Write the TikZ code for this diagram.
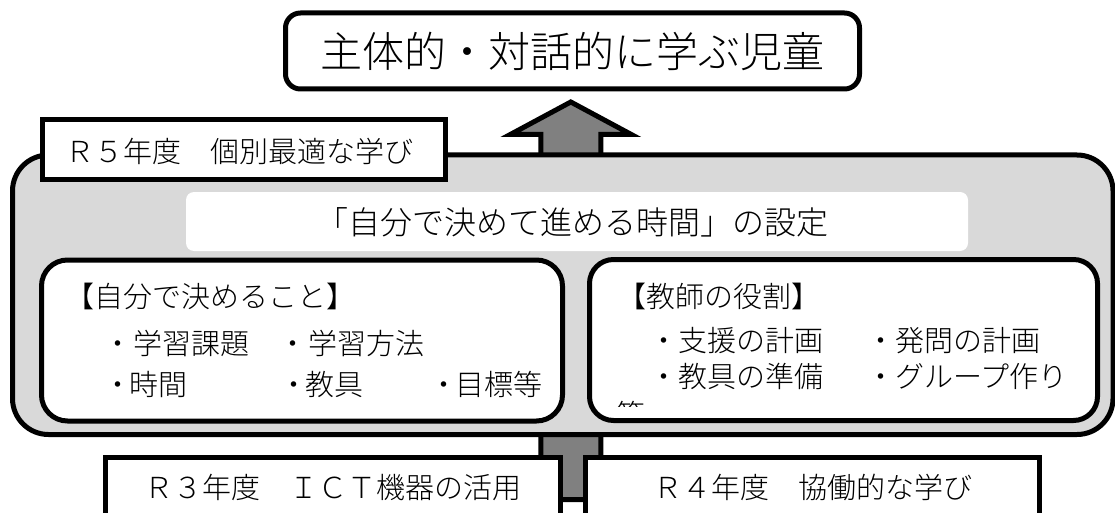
\documentclass[tikz,border=0pt]{standalone}
\usepackage{fontspec}
\IfFontExistsTF{Noto Sans CJK JP Light}
  {\setmainfont{Noto Sans CJK JP Light}}
  {\setmainfont{Noto Sans CJK JP}}
\definecolor{panelgray}{RGB}{217,217,217}
\definecolor{arrowgray}{RGB}{128,128,128}
\newcommand\fsz[1]{\fontsize{#1}{#1}\selectfont}
\begin{document}
\begin{tikzpicture}[x=1pt,y=-1pt,
  framebox/.style={draw=black,line width=5pt,fill=white,inner sep=0pt},
  item/.style={inner sep=0pt,anchor=west,font=\fsz{29}},
  label/.style={inner sep=0pt,font=\fsz{29}}]
\useasboundingbox (0,0) rectangle (1115,513);
\fill[white] (0,0) rectangle (1115,513);
\clip (0,0) rectangle (1115,513);

% block arrow (behind everything)
\coordinate (abl) at (540.8,499.5);
\coordinate (abr) at (600.8,499.5);
\coordinate (asl) at (540.8,134.5);
\coordinate (asr) at (600.8,134.5);
\coordinate (ahl) at (510.3,134.5);
\coordinate (ahr) at (631.3,134.5);
\coordinate (atip) at (570.8,102);
\draw[line width=5pt,fill=arrowgray,line join=miter]
  (abl) -- (asl) -- (ahl) -- (atip) -- (ahr) -- (asr) -- (abr) -- cycle;

% goal box
\node[framebox,rounded corners=15pt,minimum width=574pt,minimum height=76pt,font=\fsz{42}]
  (goal) at (572.5,51) {主体的・対話的に学ぶ児童};

% main panel
\node[draw=black,line width=5pt,fill=panelgray,rounded corners=36pt,
  minimum width=1100.5pt,minimum height=279.5pt,inner sep=0pt] (panel) at (562.75,294.75) {};

% R5 label
\node[framebox,minimum width=403pt,minimum height=60pt] (r5) at (244,149.5) {};
\node[label] (r5text) at (239.5,151) {Ｒ５年度　個別最適な学び};

% banner
\node[fill=white,rounded corners=8pt,minimum width=782pt,minimum height=59pt,inner sep=0pt]
  (banner) at (577,221.5) {};
\node[inner sep=0pt,font=\fsz{32}] (bannertext) at (572.5,222) {「自分で決めて進める時間」の設定};

% inner boxes
\node[framebox,rounded corners=26pt,minimum width=521pt,minimum height=161pt] (selfbox) at (302,340.5) {};
\node[framebox,rounded corners=24pt,minimum width=508pt,minimum height=161pt] (rolebox) at (843.5,340) {};

% left box text
\node[item] (s0) at (65,296) {【自分で決めること】};
\node[item] (s1) at (103.5,343) {・\kern1pt 学習課題};
\node[item] (s2) at (278.5,343) {・\kern1pt 学習方法};
\node[item] (s3) at (103.5,384) {・\kern-3pt 時間};
\node[item] (s4) at (279.5,384) {・\kern-3pt 教具};
\node[item] (s5) at (429.5,384) {・\kern-3pt 目標等};

% right box text
\node[item] (t0) at (617,296) {【教師の役割】};
\node[item] (t1) at (649,340.5) {・支援の計画};
\node[item] (t2) at (866,340.5) {・発問の計画};
\node[item] (t3) at (649,376.5) {・教具の準備};
\node[item] (t4) at (866,376.5) {・グループ作り};
\begin{scope}
  \clip (600,390) rectangle (700,406.5);
  \node[item] (t5) at (616,414) {等};
\end{scope}

% bottom boxes
\node[framebox,minimum width=455pt,minimum height=59pt,font=\fsz{29}] (r3) at (333,487) {Ｒ３年度　ＩＣＴ機器の活用};
\node[framebox,minimum width=454pt,minimum height=59pt,font=\fsz{29}] (r4) at (812.5,487) {Ｒ４年度　協働的な学び};
\end{tikzpicture}
\end{document}
